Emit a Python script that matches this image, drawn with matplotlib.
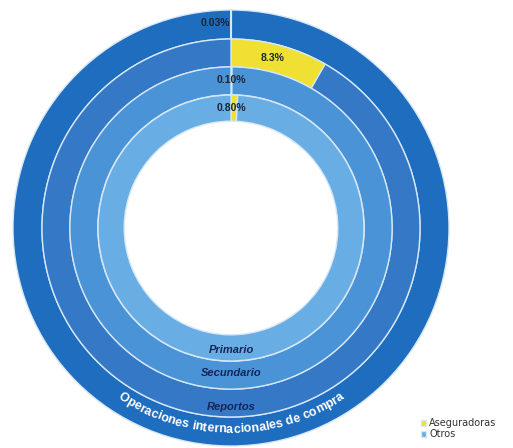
import matplotlib
matplotlib.use("Agg")
import matplotlib.pyplot as plt
from matplotlib.font_manager import FontProperties
import numpy as np

# anillos de afuera hacia adentro
anillos = ["Operaciones internacionales de compra", "Reportos", "Secundario", "Primario"]
aseguradoras = [0.03, 8.3, 0.10, 0.80]
otros = [100 - v for v in aseguradoras]
etiquetas = ["0.03%", "8.3%", "0.10%", "0.80%"]

colores_anillo = ["#1f6dbf", "#3579c6", "#4a93d6", "#68ade4"]
amarillo = "#efe033"
radios = [1.0, 0.867, 0.739, 0.61]
anchos = [0.133, 0.128, 0.128, 0.12]

fuente = ["Liberation Sans Narrow", "Liberation Sans", "DejaVu Sans"]

fig = plt.figure(figsize=(5.13, 4.48), dpi=100)
ax = fig.add_axes([0, 0, 1, 1])

cx, cy, rpx = 231, 228, 218  # centro y radio en pixeles

cunas_internas = None
for i in range(len(anillos)):
	cunas, _ = ax.pie([aseguradoras[i], otros[i]], radius=radios[i], startangle=90,
		counterclock=False, colors=[amarillo, colores_anillo[i]],
		wedgeprops=dict(width=anchos[i], edgecolor="#d6e8f7", linewidth=1.0))
	cunas_internas = cunas

ax.set_aspect("equal")
ax.set_xlim(-cx / rpx, (513 - cx) / rpx)
ax.set_ylim(-(448 - cy) / rpx, cy / rpx)
ax.axis("off")

# porcentajes arriba
pos_pct = [(-0.07, 0.94), (0.19, 0.78), (0.0, 0.68), (0.0, 0.55)]
for (x, y), t in zip(pos_pct, etiquetas):
	ax.text(x, y, t, ha="center", va="center", fontsize=7.5, fontweight="bold",
		color="#1b2438", family=fuente)

# nombres de los anillos internos
pos_nombre = [(0.0, -0.56, "Primario"), (0.0, -0.665, "Secundario"), (0.0, -0.82, "Reportos")]
for x, y, t in pos_nombre:
	ax.text(x, y, t, ha="center", va="center", fontsize=8, fontweight="bold",
		style="italic", color="#14255a", family=fuente)

# texto curvo en el anillo exterior
texto = anillos[0]
fig.canvas.draw()
rend = fig.canvas.get_renderer()
fp = FontProperties(family=fuente, weight="bold", size=9)
def ancho(s):
	if not s:
		return 0.0
	w, h, d = rend.get_text_width_height_descent(s.replace(" ", "\u00a0"), fp, ismath=False)
	return w
total = ancho(texto)
r_txt = 0.925
r_txt_px = r_txt * rpx
for k, ch in enumerate(texto):
	izq = ancho(texto[:k])
	centro = izq + ancho(ch) / 2 - total / 2
	theta = 270 + np.degrees(centro / r_txt_px)
	th = np.radians(theta)
	ax.text(r_txt * np.cos(th), r_txt * np.sin(th), ch, ha="center", va="center",
		rotation=theta + 90, rotation_mode="anchor", fontproperties=fp, color="white")

# leyenda
fig.legend([cunas_internas[0], cunas_internas[1]], ["Aseguradoras", "Otros"],
	loc="lower right", bbox_to_anchor=(0.985, 0.0), frameon=False, fontsize=7,
	handlelength=0.6, handleheight=0.6, handletextpad=0.3, labelspacing=0.1,
	labelcolor="#333333")

fig.savefig("out.png", dpi=100)
